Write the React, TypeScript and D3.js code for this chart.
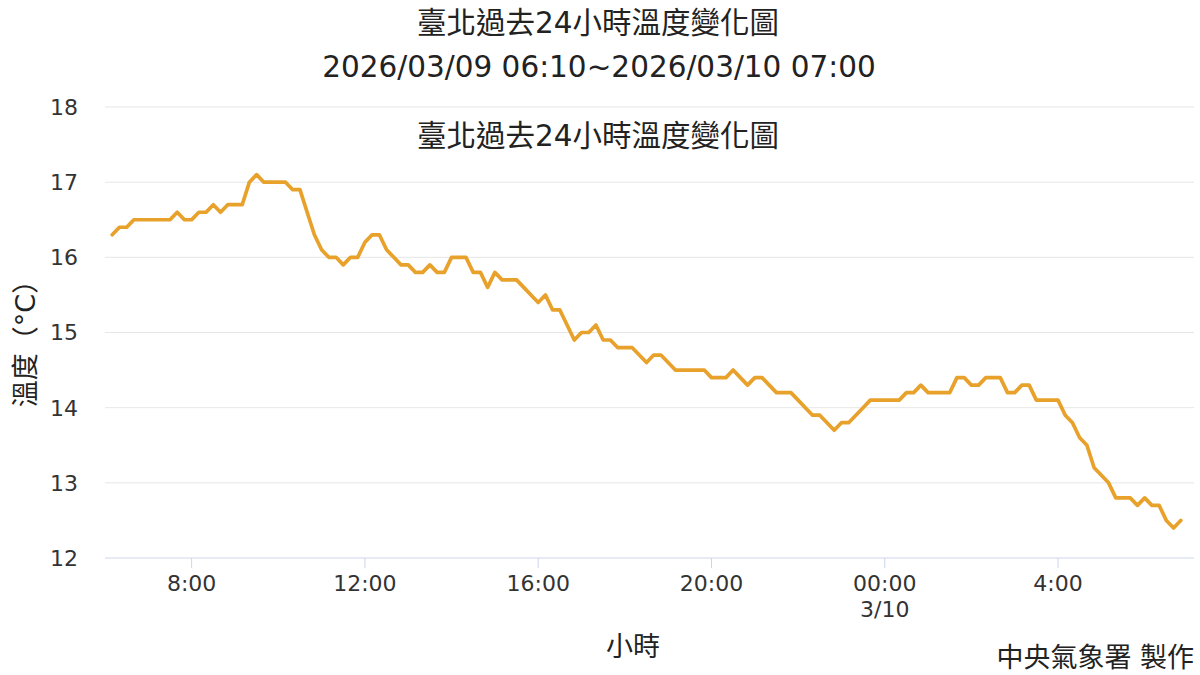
import React from "react";
import * as d3 from "d3";

const TITLE = "臺北過去24小時溫度變化圖";
const SUBTITLE = "2026/03/09 06:10~2026/03/10 07:00";
const X_TITLE = "小時";
const Y_TITLE = "溫度（°C）";
const CREDIT = "中央氣象署 製作";

// 10-minute readings starting 2026/03/09 06:10
const START_TIME = new Date(2026, 2, 9, 6, 10);
const temps: number[] = [
  16.3, 16.4, 16.4, 16.5, 16.5, 16.5, 16.5, 16.5, 16.5, 16.6,
  16.5, 16.5, 16.6, 16.6, 16.7, 16.6, 16.7, 16.7, 16.7, 17.0,
  17.1, 17.0, 17.0, 17.0, 17.0, 16.9, 16.9, 16.6, 16.3, 16.1,
  16.0, 16.0, 15.9, 16.0, 16.0, 16.2, 16.3, 16.3, 16.1, 16.0,
  15.9, 15.9, 15.8, 15.8, 15.9, 15.8, 15.8, 16.0, 16.0, 16.0,
  15.8, 15.8, 15.6, 15.8, 15.7, 15.7, 15.7, 15.6, 15.5, 15.4,
  15.5, 15.3, 15.3, 15.1, 14.9, 15.0, 15.0, 15.1, 14.9, 14.9,
  14.8, 14.8, 14.8, 14.7, 14.6, 14.7, 14.7, 14.6, 14.5, 14.5,
  14.5, 14.5, 14.5, 14.4, 14.4, 14.4, 14.5, 14.4, 14.3, 14.4,
  14.4, 14.3, 14.2, 14.2, 14.2, 14.1, 14.0, 13.9, 13.9, 13.8,
  13.7, 13.8, 13.8, 13.9, 14.0, 14.1, 14.1, 14.1, 14.1, 14.1,
  14.2, 14.2, 14.3, 14.2, 14.2, 14.2, 14.2, 14.4, 14.4, 14.3,
  14.3, 14.4, 14.4, 14.4, 14.2, 14.2, 14.3, 14.3, 14.1, 14.1,
  14.1, 14.1, 13.9, 13.8, 13.6, 13.5, 13.2, 13.1, 13.0, 12.8,
  12.8, 12.8, 12.7, 12.8, 12.7, 12.7, 12.5, 12.4, 12.5,
];

const yTicks: number[] = [12, 13, 14, 15, 16, 17, 18];
const xTickTimes: Date[] = [
  new Date(2026, 2, 9, 8, 0),
  new Date(2026, 2, 9, 12, 0),
  new Date(2026, 2, 9, 16, 0),
  new Date(2026, 2, 9, 20, 0),
  new Date(2026, 2, 10, 0, 0),
  new Date(2026, 2, 10, 4, 0),
];
const xTickLabels: string[][] = [
  ["8:00"],
  ["12:00"],
  ["16:00"],
  ["20:00"],
  ["00:00", "3/10"],
  ["4:00"],
];

const FONT = "'DejaVu Sans', 'Noto Sans CJK TC', sans-serif";

export default function App() {
  const W = 1200;
  const H = 675;
  const left = 105;
  const right = 1194;
  const top = 107;
  const bottom = 558;

  const data = temps.map((v, i) => ({
    t: new Date(START_TIME.getTime() + i * 10 * 60 * 1000),
    v,
  }));

  const x = d3
    .scaleTime()
    .domain([new Date(2026, 2, 9, 6, 0), new Date(2026, 2, 10, 7, 8, 20)])
    .range([left, right]);
  const y = d3.scaleLinear().domain([12, 18]).range([bottom, top]);

  const line = d3
    .line<{ t: Date; v: number }>()
    .x((d) => x(d.t))
    .y((d) => y(d.v));

  return (
    <svg
      width={W}
      height={H}
      style={{ position: "absolute", left: 0, top: 0, background: "#fff" }}
      fontFamily={FONT}
    >
      <rect x={0} y={0} width={W} height={H} fill="#fff" />
      {/* grid */}
      {yTicks.map((t) =>
        t === 12 ? null : (
          <line
            key={t}
            x1={left}
            x2={right}
            y1={y(t)}
            y2={y(t)}
            stroke="#e6e6e6"
            strokeWidth={1}
          />
        )
      )}
      {/* y tick labels */}
      {yTicks.map((t) => (
        <text
          key={"yl" + t}
          x={78}
          y={y(t)}
          dy="0.36em"
          textAnchor="end"
          fontSize={22}
          fill="#333"
        >
          {t}
        </text>
      ))}
      {/* x axis line */}
      <line x1={left} x2={right} y1={bottom} y2={bottom} stroke="#ccd6eb" strokeWidth={1} />
      {xTickTimes.map((t, i) => (
        <g key={"xt" + i}>
          <line
            x1={x(t)}
            x2={x(t)}
            y1={bottom}
            y2={bottom + 10}
            stroke="#ccd6eb"
            strokeWidth={1}
          />
          {xTickLabels[i].map((s, j) => (
            <text
              key={j}
              x={x(t)}
              y={591 + j * 26}
              textAnchor="middle"
              fontSize={22}
              fill="#333"
            >
              {s}
            </text>
          ))}
        </g>
      ))}
      {/* data line */}
      <path
        d={line(data) || ""}
        fill="none"
        stroke="#E8A12A"
        strokeWidth={3.7}
        strokeLinejoin="round"
        strokeLinecap="round"
      />
      {/* titles */}
      <text x={598} y={33} textAnchor="middle" fontSize={29.5} fill="#222">
        {TITLE}
      </text>
      <text x={599} y={77} textAnchor="middle" fontSize={29.5} fill="#222">
        {SUBTITLE}
      </text>
      <text x={598} y={146} textAnchor="middle" fontSize={29.5} fill="#222">
        {TITLE}
      </text>
      {/* axis titles */}
      <text x={633} y={656} textAnchor="middle" fontSize={27} fill="#222">
        {X_TITLE}
      </text>
      <text
        transform="translate(25,337) rotate(-90)"
        textAnchor="middle"
        dominantBaseline="central"
        fontSize={27}
        fill="#222"
      >
        {Y_TITLE}
      </text>
      <text x={1194} y={667} textAnchor="end" fontSize={27} fill="#222">
        {CREDIT}
      </text>
    </svg>
  );
}
